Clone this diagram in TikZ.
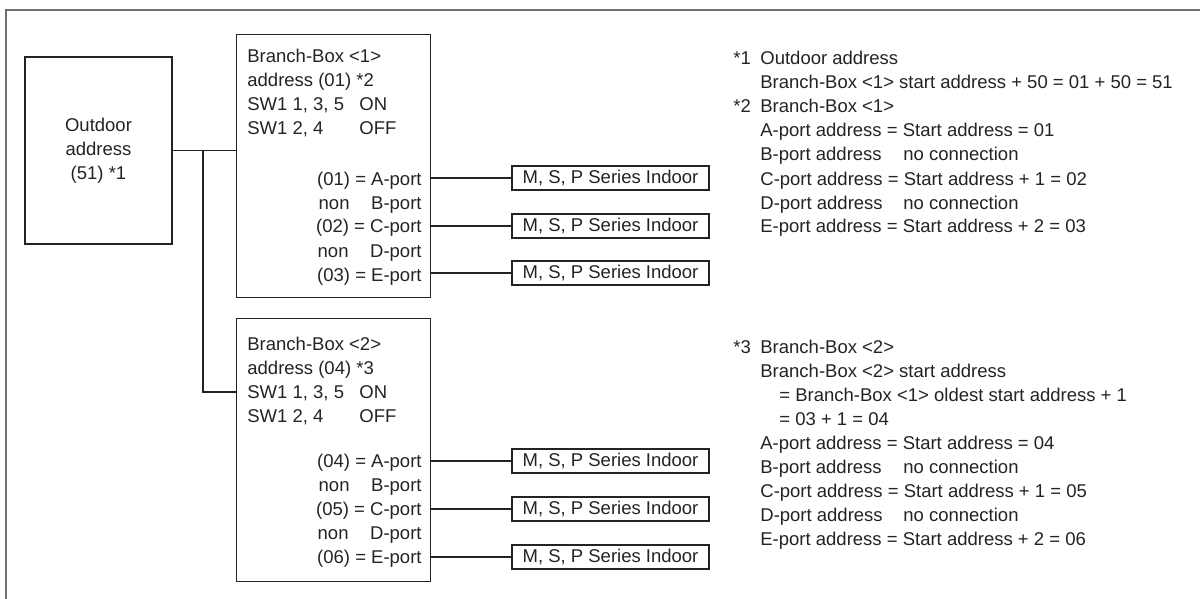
\documentclass[tikz,border=0pt]{standalone}
\usepackage{fontspec}
\setmainfont{Liberation Sans}
\usetikzlibrary{calc,positioning}
\definecolor{framegray}{HTML}{707070}
\definecolor{inkgray}{HTML}{232323}

\begin{document}
\begin{tikzpicture}[x=0.5pt,y=-0.5pt,
  every node/.style={font=\fontsize{9.25}{12}\selectfont,text=inkgray,inner sep=0pt},
  box/.style={draw=inkgray,line width=0.6pt},
  bbox/.style={box,anchor=north west,minimum width=97pt,minimum height=131.5pt},
  idu/.style={box,minimum width=98.5pt,minimum height=12pt},
  wire/.style={draw=inkgray,line width=0.6pt},
  txt/.style={anchor=base west}]
  \useasboundingbox (0,0) rectangle (1200,599);
  \draw[framegray,line width=1pt] (6,599) -- (6,10) -- (1200,10);

  % outdoor unit and branch boxes
  \node[box,minimum width=73.5pt,minimum height=93.5pt,align=center] (od) at (98.5,150.5) {Outdoor\\address\\(51) *1};
  \node[bbox] (bb1) at (236,34) {};
  \node[bbox] (bb2) at (236,318) {};
  \coordinate (jn) at (203,150.5);
  \coordinate (tk) at (203,392);
  \draw[wire] (od.east) -- (od.east -| bb1.west);
  \draw[wire] (jn) |- (tk -| bb2.west);

  % branch box <1>
  \node[txt] (b1n) at (247,63) {Branch-Box <1>};
  \node[txt] (b1a) at (247,87) {address (01) *2};
  \node[txt] (b1s) at (247,111) {SW1 1, 3, 5};
  \node[txt] (b1on) at (359,111) {ON};
  \node[txt] (b1t) at (247,135) {SW1 2, 4};
  \node[txt] (b1off) at (359,135) {OFF};
  \foreach \p/\t [count=\i from 0] in {a/(01) = A-port,b/non\hspace{1.17em}B-port,c/(02) = C-port,d/non\hspace{1.17em}D-port,e/(03) = E-port}
    \node[anchor=base east] (b1\p) at (422,185+24*\i) {\t};
  \foreach \p/\y in {a/178,c/226,e/273}{
    \node[idu] (i1\p) at (610.5,\y) {M, S, P Series Indoor};
    \draw[wire] (i1\p.west -| bb1.east) -- (i1\p.west);
  }

  % branch box <2>
  \node[txt] (b2n) at (247,350) {Branch-Box <2>};
  \node[txt] (b2a) at (247,374) {address (04) *3};
  \node[txt] (b2s) at (247,398) {SW1 1, 3, 5};
  \node[txt] (b2on) at (359,398) {ON};
  \node[txt] (b2t) at (247,422) {SW1 2, 4};
  \node[txt] (b2off) at (359,422) {OFF};
  \foreach \p/\t [count=\i from 0] in {a/(04) = A-port,b/non\hspace{1.17em}B-port,c/(05) = C-port,d/non\hspace{1.17em}D-port,e/(06) = E-port}
    \node[anchor=base east] (b2\p) at (422,467+24*\i) {\t};
  \foreach \p/\y in {a/461,c/509,e/557}{
    \node[idu] (i2\p) at (610.5,\y) {M, S, P Series Indoor};
    \draw[wire] (i2\p.west -| bb2.east) -- (i2\p.west);
  }

  % notes
  \node[txt] (m1) at (733,65) {*1};
  \node[txt] (m2) at (733,113) {*2};
  \node[txt] (m3) at (733,353) {*3};
  \foreach \t [count=\i from 0] in {Outdoor address,Branch-Box <1> start address + 50 = 01 + 50 = 51,Branch-Box <1>,A-port address = Start address = 01,B-port address,C-port address = Start address + 1 = 02,D-port address,E-port address = Start address + 2 = 03}
    \node[txt] (n1l\i) at (760,65+24*\i) {\t};
  \node[txt] (n1b) at (903,161) {no connection};
  \node[txt] (n1d) at (903,209) {no connection};
  \node[txt] (n2l0) at (760,353) {Branch-Box <2>};
  \node[txt] (n2l1) at (760,377) {Branch-Box <2> start address};
  \node[txt] (n2l2) at (779,401) {= Branch-Box <1> oldest start address + 1};
  \node[txt] (n2l3) at (779,425) {= 03 + 1 = 04};
  \foreach \t [count=\i from 4] in {A-port address = Start address = 04,B-port address,C-port address = Start address + 1 = 05,D-port address,E-port address = Start address + 2 = 06}
    \node[txt] (n2l\i) at (760,353+24*\i) {\t};
  \node[txt] (n2b) at (903,473) {no connection};
  \node[txt] (n2d) at (903,521) {no connection};
\end{tikzpicture}
\end{document}
